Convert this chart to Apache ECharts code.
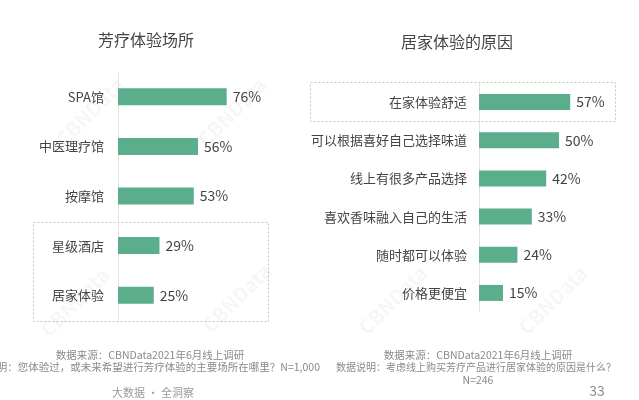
<!DOCTYPE html>
<html>
<head>
<meta charset="utf-8">
<script src="https://cdn.jsdelivr.net/npm/echarts@6/dist/echarts.min.js"></script>
<style>
  html, body { margin: 0; padding: 0; background: #fff; }
  #chart { width: 639px; height: 400px; }
</style>
</head>
<body>
<div id="chart"></div>
<script>
// 芳疗体验场所
const venueCategories = ['SPA馆', '中医理疗馆', '按摩馆', '星级酒店', '居家体验'];
const venueValues = [76, 56, 53, 29, 25];

// 居家体验的原因
const reasonCategories = ['在家体验舒适', '可以根据喜好自己选择味道', '线上有很多产品选择', '喜欢香味融入自己的生活', '随时都可以体验', '价格更便宜'];
const reasonValues = [57, 50, 42, 33, 24, 15];

const titles = ['芳疗体验场所', '居家体验的原因'];
const sourceNote = '数据来源：CBNData2021年6月线上调研';
const venueNote = '数据说明：您体验过，或未来希望进行芳疗体验的主要场所在哪里？N=1,000';
const reasonNote = '数据说明：考虑线上购买芳疗产品进行居家体验的原因是什么？';
const reasonSample = 'N=246';

const FONT = '"Noto Sans CJK SC", "Noto Sans", sans-serif';
const BAR = '#5aae8c';
const TEXT = '#444';

const chart = echarts.init(document.getElementById('chart'));

function yAxisFor(idx, cats, margin) {
  return {
    type: 'category', gridIndex: idx, data: cats, inverse: true,
    axisLine: { show: true, lineStyle: { color: '#e2e2e2', width: 1 } },
    axisTick: { show: false },
    axisLabel: { color: TEXT, fontSize: 13, fontFamily: FONT, margin: margin }
  };
}
function xAxisFor(idx) {
  return {
    type: 'value', gridIndex: idx, min: 0, max: 100,
    show: false, splitLine: { show: false }
  };
}
function barSeries(idx, values, width) {
  return {
    type: 'bar', xAxisIndex: idx, yAxisIndex: idx, data: values,
    barWidth: width, itemStyle: { color: BAR },
    label: {
      show: true, position: 'right', distance: 6,
      formatter: '{c}%', color: TEXT, fontSize: 14, fontFamily: FONT
    },
    silent: true
  };
}

function note(text, x, y, size, align, color) {
  return {
    type: 'text', x: x, y: y, silent: true,
    style: {
      text: text, x: 0, y: 0, fill: color || '#8a8a8a',
      font: size + 'px ' + FONT, textAlign: align || 'center', textVerticalAlign: 'middle'
    }
  };
}
// faint diagonal brand watermark
function mark(x, y) {
  return {
    type: 'text', x: x, y: y, rotation: Math.PI / 4, silent: true, z: -1,
    style: {
      text: 'CBNData', fill: 'rgba(0,0,0,0.035)',
      font: 'bold 20px ' + FONT, textAlign: 'center', textVerticalAlign: 'middle'
    }
  };
}

chart.setOption({
  backgroundColor: '#fff',
  animation: false,
  grid: [
    { left: 118, top: 72, width: 143, height: 248 },
    { left: 479, top: 83, width: 165, height: 229 }
  ],
  xAxis: [xAxisFor(0), xAxisFor(1)],
  yAxis: [yAxisFor(0, venueCategories, 14), yAxisFor(1, reasonCategories, 12)],
  series: [barSeries(0, venueValues, 17), barSeries(1, reasonValues, 16)],
  graphic: [
    mark(90, 112), mark(232, 112), mark(75, 302), mark(237, 298),
    mark(393, 300), mark(553, 300),
    note(titles[0], 146, 40, 16, 'center', '#444'),
    note(titles[1], 457, 42, 16, 'center', '#444'),
    {
      type: 'rect', silent: true,
      shape: { x: 33.5, y: 222.5, width: 235, height: 99 },
      style: { fill: 'none', stroke: '#c9c7a4', lineWidth: 1, lineDash: [2, 2] }
    },
    {
      type: 'rect', silent: true,
      shape: { x: 310.5, y: 82.5, width: 305, height: 39 },
      style: { fill: 'none', stroke: '#c9c7a4', lineWidth: 1, lineDash: [2, 2] }
    },
    note(sourceNote, 150, 355, 10.5),
    note(venueNote, 320, 367, 10.5, 'right'),
    note(sourceNote, 478, 355, 10.5),
    note(reasonNote, 476, 367, 10),
    note(reasonSample, 478, 380, 10.5),
    note('大数据 · 全洞察', 153, 393, 11, 'center', '#9a9a9a'),
    note('33', 597, 391, 14, 'center', '#8a8a8a')
  ]
});
</script>
</body>
</html>
